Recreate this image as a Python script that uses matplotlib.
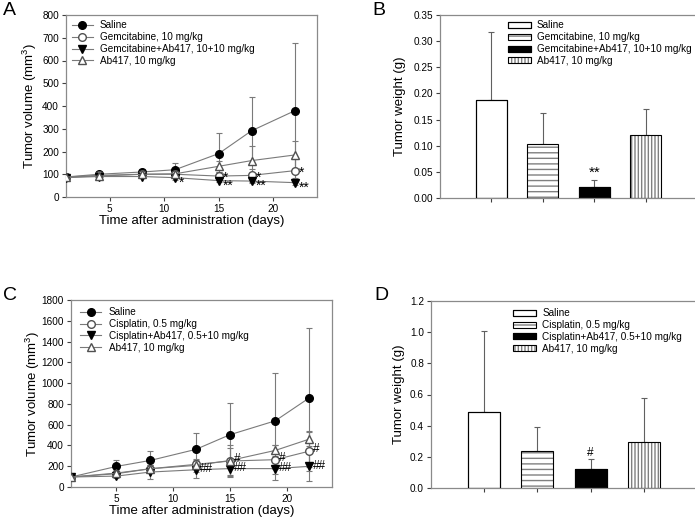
import matplotlib
matplotlib.use("Agg")
import matplotlib.pyplot as plt
from matplotlib.legend_handler import HandlerTuple
import numpy as np

plt.rcParams['font.family'] = ['Liberation Sans', 'DejaVu Sans']
plt.rcParams['mathtext.fontset'] = 'custom'
plt.rcParams['mathtext.rm'] = 'Liberation Sans'

# ---------------- Data ----------------
# Panel A (gemcitabine)
days_a = [1, 4, 8, 11, 15, 18, 22]
labels_a = ["Saline", "Gemcitabine, 10 mg/kg", "Gemcitabine+Ab417, 10+10 mg/kg", "Ab417, 10 mg/kg"]
saline_a = [88, 100, 110, 120, 191, 291, 380]
saline_a_err = [8, 8, 12, 30, 92, 147, 295]
gem_a = [88, 95, 100, 100, 92, 95, 116]
gem_a_err = [5, 8, 10, 12, 18, 28, 50]
combo_a = [85, 90, 90, 85, 72, 70, 63]
combo_a_err = [5, 6, 8, 10, 8, 10, 10]
ab_a = [88, 92, 100, 102, 135, 160, 185]
ab_a_err = [5, 8, 10, 12, 25, 62, 63]
gem_a_sig = ["", "", "", "", "*", "*", "*"]
combo_a_sig = ["", "", "", "*", "**", "**", "**"]

# Panel B (tumor weight, gemcitabine)
weight_b = [0.188, 0.104, 0.021, 0.120]
weight_b_err = [0.129, 0.058, 0.014, 0.050]
sig_b = ["", "", "**", ""]

# Panel C (cisplatin)
days_c = [1, 5, 8, 12, 15, 19, 22]
labels_c = ["Saline", "Cisplatin, 0.5 mg/kg", "Cisplatin+Ab417, 0.5+10 mg/kg", "Ab417, 10 mg/kg"]
saline_c = [96, 198, 256, 362, 503, 637, 858]
saline_c_err = [10, 58, 86, 160, 307, 464, 670]
cis_c = [96, 128, 176, 218, 250, 263, 345]
cis_c_err = [10, 25, 35, 45, 130, 140, 190]
combo_c = [96, 105, 144, 166, 177, 177, 199]
combo_c_err = [10, 20, 70, 80, 80, 110, 140]
ab_c = [96, 134, 176, 208, 255, 352, 461]
ab_c_err = [10, 25, 35, 60, 150, 55, 67]
cis_c_sig = ["", "", "", "", "#", "#", "#"]
combo_c_sig = ["", "", "", "##", "##", "##", "##"]

# Panel D (tumor weight, cisplatin)
weight_d = [0.486, 0.235, 0.122, 0.292]
weight_d_err = [0.52, 0.155, 0.066, 0.284]
sig_d = ["", "", "#", ""]

W, H = 695, 522
fig = plt.figure(figsize=(W / 100, H / 100), dpi=100)

SPINE = '#8a8a8a'
LINE = '#7a7a7a'
FS_TICK = 7.2
FS_LAB = 9.5
FS_LEG = 7.2


def fbox(l, t, r, b):
    return [l / W, 1 - b / H, (r - l) / W, (b - t) / H]


def style_axes(ax):
    for s in ax.spines.values():
        s.set_color(SPINE)
        s.set_linewidth(0.9)
    ax.tick_params(direction='out', length=3, width=0.8, color='#404040',
                   labelsize=FS_TICK, pad=2)


def line_panel(ax, days, series, errs, labels, sigs, ylim, yticks, leg_anchor,
               sig_fs, sig_dys, ylabpad):
    styles = [
        dict(marker='o', mfc='black', mec='black', ms=5.5),
        dict(marker='o', mfc='white', mec='#505050', ms=5.5),
        dict(marker='v', mfc='black', mec='black', ms=5.5),
        dict(marker='^', mfc='white', mec='#505050', ms=5.5),
    ]
    handles = []
    for y, e, lab, st in zip(series, errs, labels, styles):
        ax.errorbar(days, y, yerr=e, fmt='none', ecolor=LINE, elinewidth=0.8,
                    capsize=2.2, capthick=0.8, zorder=2)
        h, = ax.plot(days, y, color=LINE, lw=0.8, zorder=3, label=lab, **st)
        handles.append(h)
    for (y, sg), dy in zip(sigs, sig_dys):
        for d, v, s in zip(days, y, sg):
            if s:
                ax.annotate(s, (d, v), xytext=(2.8, dy), textcoords='offset points',
                            fontsize=sig_fs, va='center', ha='left', zorder=5)
    ax.set_xlim(1, 24)
    ax.set_xticks([5, 10, 15, 20])
    ax.set_ylim(*ylim)
    ax.set_yticks(yticks)
    style_axes(ax)
    ax.set_ylabel('Tumor volume (mm$^3$)', fontsize=FS_LAB, labelpad=ylabpad)
    ax.set_xlabel('Time after administration (days)', fontsize=FS_LAB, labelpad=1)
    ax.legend(handles=handles, loc='upper left', bbox_to_anchor=leg_anchor,
              frameon=False, fontsize=FS_LEG, handlelength=2.1, handletextpad=0.75,
              labelspacing=0.18, borderaxespad=0.25, borderpad=0.3)


def bar_panel(ax, vals, errs, labels, sigs, ylim, yticks, fmt, leg_anchor, sig_fs, ylabpad):
    x = np.arange(1, len(vals) + 1)
    fills = ['white', 'white', 'black', 'white']
    hatches = [None, '---', None, '|||||']
    handles = []
    for xi, v, e, f, h, lab in zip(x, vals, errs, fills, hatches, labels):
        ax.errorbar([xi], [v], yerr=[[0], [e]], fmt='none', ecolor='#606060',
                    elinewidth=0.8, capsize=2.2, capthick=0.8, zorder=1)
        b1 = ax.bar([xi], [v], width=0.6, color=f, edgecolor='#808080' if h else 'black',
                    hatch=h, linewidth=0 if h else 0.8, zorder=2)
        b2 = ax.bar([xi], [v], width=0.6, color='none', edgecolor='black',
                    linewidth=0.8, zorder=3)
        handles.append((b1, b2))
    for xi, v, e, s in zip(x, vals, errs, sigs):
        if s:
            ax.annotate(s, (xi, v + e), xytext=(0, 0), textcoords='offset points',
                        ha='center', va='bottom', fontsize=sig_fs)
    ax.set_xlim(0, 5)
    ax.set_xticks(x)
    ax.set_xticklabels([])
    ax.set_ylim(*ylim)
    ax.set_yticks(yticks)
    ax.yaxis.set_major_formatter(plt.FormatStrFormatter(fmt))
    style_axes(ax)
    ax.set_ylabel('Tumor weight (g)', fontsize=FS_LAB, labelpad=ylabpad)
    ax.legend(handles=handles, labels=labels, loc='upper left',
              bbox_to_anchor=leg_anchor, frameon=False, fontsize=FS_LEG,
              handler_map={tuple: HandlerTuple(ndivide=1, pad=0)},
              handlelength=2.3, handleheight=0.55, handletextpad=0.6,
              labelspacing=0.18, borderaxespad=0.25, borderpad=0.3)


axA = fig.add_axes(fbox(66, 15, 317, 197))
line_panel(axA, days_a, [saline_a, gem_a, combo_a, ab_a],
           [saline_a_err, gem_a_err, combo_a_err, ab_a_err], labels_a,
           [(gem_a, gem_a_sig), (combo_a, combo_a_sig)],
           (0, 800), np.arange(0, 801, 100), (0.0, 1.0), 10, (-1.5, -3.5), 2)

axB = fig.add_axes(fbox(440, 15, 697, 198))
bar_panel(axB, weight_b, weight_b_err, labels_a, sig_b, (0, 0.35),
          np.arange(0, 0.351, 0.05), '%.2f', (0.243, 1.0), 11, 5)

axC = fig.add_axes(fbox(71, 300, 332, 487))
line_panel(axC, days_c, [saline_c, cis_c, combo_c, ab_c],
           [saline_c_err, cis_c_err, combo_c_err, ab_c_err], labels_c,
           [(cis_c, cis_c_sig), (combo_c, combo_c_sig)],
           (0, 1800), np.arange(0, 1801, 200), (0.015, 0.99), 8.5, (1.5, 0.5), 0)

axD = fig.add_axes(fbox(431, 301, 697, 488))
bar_panel(axD, weight_d, weight_d_err, labels_c, sig_d, (0, 1.2),
          np.arange(0, 1.21, 0.2), '%.1f', (0.288, 0.99), 8.5, 4)

for lab, (x, y) in zip("ABCD", [(3, 2), (372, 2), (3, 287), (374, 287)]):
    fig.text(x / W, 1 - y / H, lab, fontsize=14, ha='left', va='top')

fig.savefig('out.png', dpi=100)
